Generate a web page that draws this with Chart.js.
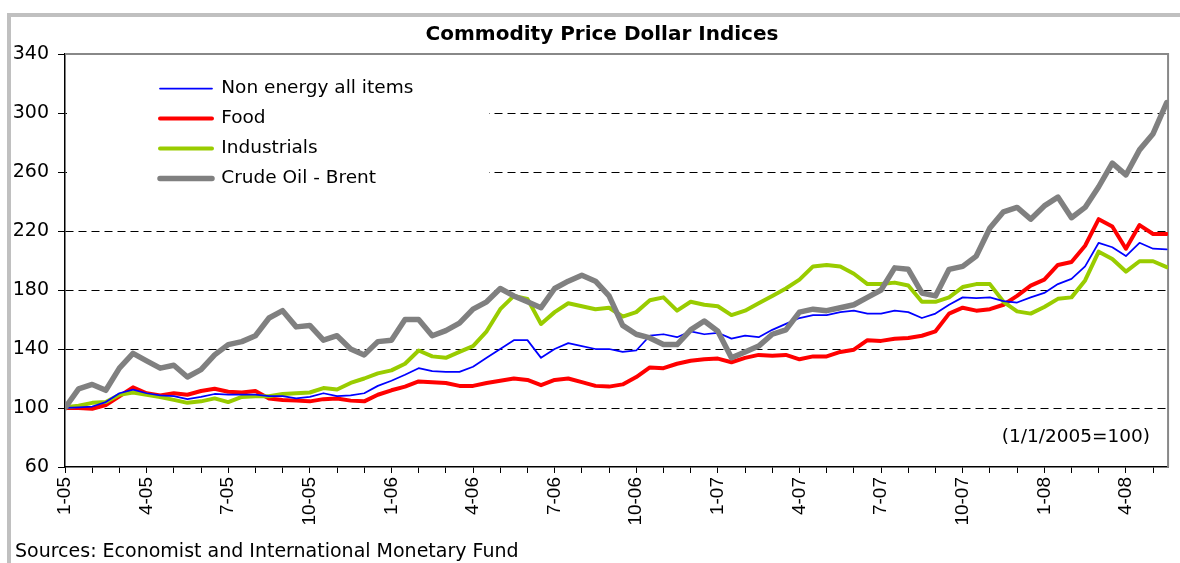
<!DOCTYPE html>
<html>
<head>
<meta charset="utf-8">
<title>Commodity Price Dollar Indices</title>
<script src="https://cdn.jsdelivr.net/npm/chart.js@4/dist/chart.umd.min.js"></script>
<style>
    html, body { margin: 0; padding: 0; background: #fff; }
</style>
</head>
<body>
<canvas id="myLineChart" width="1180" height="563"></canvas>
<script>
// biweekly readings, Jan 2005 .. mid May 2008 (1/1/2005 = 100)
var nonEnergy = [100, 100.5, 101, 104, 110, 112.5, 110, 108.5, 108, 106, 107.5, 109.5, 109, 109, 109, 108, 108,
    106.5, 107.5, 110, 108, 108.5, 110, 115, 118.5, 122.5, 127, 125, 124.5, 124.5, 128, 134, 140,
    146, 146, 134, 140, 144, 142, 140, 140, 138, 139, 149, 150, 148, 152, 150, 151, 147,
    149, 148, 153, 157, 161, 163, 163, 165, 166, 164, 164, 166, 165, 161, 164, 170,
    175, 174.5, 175, 172.5, 171.5, 175, 178, 184, 187.5, 196, 212, 209, 203, 212, 208, 207.5];
var food = [100, 100, 99.5, 102, 108, 114, 110, 108.5, 110, 109, 111.5, 113, 111, 110.5, 111.5, 106.5, 105.5,
    105, 104.5, 106, 106.5, 105, 104.5, 109, 112, 114.5, 118, 117.5, 117, 115, 115, 117, 118.5,
    120, 119, 115.5, 119, 120, 117.5, 115, 114.5, 116, 121, 127.5, 127, 130, 132, 133, 133.5, 131,
    134, 136, 135.5, 136, 133, 135, 135, 138, 139.5, 146, 145.5, 147, 147.5, 149, 152, 164,
    168, 166, 167, 170, 176, 183, 187, 197, 199, 210, 228, 223, 208, 224, 218, 218];
var industrials = [100.5, 101.5, 103.5, 104, 109, 110.5, 109, 107.5, 105.5, 103.5, 104.5, 106.5, 104, 107.5, 108, 108, 109.5,
    110, 110.5, 113.5, 112.5, 117, 120, 123.5, 125.5, 130, 139, 135, 134, 138, 142, 152, 167,
    176, 174, 157, 165, 171, 169, 167, 168, 162, 165, 173, 175, 166, 172, 170, 169, 163,
    166, 171, 176, 181, 187, 196, 197, 196, 191, 184, 184, 185, 183, 172, 172, 175,
    182, 184, 184, 172, 165.5, 164, 168.5, 174, 175, 186.5, 206, 201, 192.5, 199.5, 199.5, 195.5];
var crudeBrent = [100, 113, 116, 112, 127, 137, 132, 127, 129, 121, 126, 136, 143, 145, 149, 161, 166,
    155, 156, 146, 149, 140, 136, 145, 146, 160, 160, 149, 152.5, 157.5, 167, 172, 181,
    176, 172, 168, 181, 186, 190, 186, 176, 156, 150, 147.5, 143, 143, 153, 159, 152, 134,
    138, 142, 150, 153, 165, 167, 166, 168, 170, 175, 180, 195, 194, 178, 176, 194,
    196, 203, 222, 233, 236, 228, 237, 243, 229, 236, 250, 266, 258, 275, 286, 307];

var seriesNames = ['Non energy all items', 'Food', 'Industrials', 'Crude Oil - Brent'];
var tickLabels = ['1-05', '4-05', '7-05', '10-05', '1-06', '4-06', '7-06', '10-06',
    '1-07', '4-07', '7-07', '10-07', '1-08', '4-08'];
var titleText = 'Commodity Price Dollar Indices';
var baseNote = '(1/1/2005=100)';
var sourceNote = 'Sources: Economist and International Monetary Fund';

// x position of each reading, in months after Jan 2005
var sampleMonths = nonEnergy.map(function (v, i) { return i / 2; });

function makeSet(label, data, color, width, order) {
    return {
        label: label,
        data: data,
        borderColor: color,
        backgroundColor: color,
        borderWidth: width,
        borderJoinStyle: 'round',
        borderCapStyle: 'round',
        pointRadius: 0,
        tension: 0,
        fill: false,
        order: order
    };
}

var sheetPlugin = {
    id: 'sheet',
    afterLayout: function (chart) {
        // legend inside the plot, upper left; title centred a bit right
        chart.legend.left = 148.5;
        chart.legend.top = 67.75;
        chart.titleBlock.left = 31;
    },
    beforeDraw: function (chart) {
        var ctx = chart.ctx;
        ctx.save();
        ctx.fillStyle = '#c0c0c0';
        ctx.fillRect(7, 13, chart.width - 7, 4);
        ctx.fillRect(7, 13, 4, chart.height - 13);
        ctx.restore();
    },
    beforeDatasetsDraw: function (chart) {
        var ctx = chart.ctx, a = chart.chartArea;
        ctx.save();
        ctx.fillStyle = '#fff';
        ctx.fillRect(a.left + 2, a.top + 4, 422, 142);
        ctx.strokeStyle = '#888';
        ctx.lineWidth = 2;
        ctx.beginPath();
        ctx.moveTo(a.left, a.top);
        ctx.lineTo(a.right, a.top);
        ctx.lineTo(a.right, a.bottom);
        ctx.stroke();
        ctx.restore();
        chart.legend.draw();
    },
    afterDraw: function (chart) {
        var ctx = chart.ctx, a = chart.chartArea;
        ctx.save();
        ctx.fillStyle = '#000';
        ctx.textBaseline = 'middle';
        ctx.font = '18.5px "DejaVu Sans"';
        ctx.textAlign = 'right';
        ctx.fillText(baseNote, a.right - 18, 437);
        ctx.font = '19px "DejaVu Sans"';
        ctx.textAlign = 'left';
        ctx.fillText(sourceNote, 15, 552);
        ctx.restore();
    }
};

Chart.defaults.font.family = '"DejaVu Sans", sans-serif';
Chart.defaults.color = '#000';

var myLineChart = new Chart(document.getElementById('myLineChart'), {
    type: 'line',
    data: {
        labels: sampleMonths,
        datasets: [
            makeSet(seriesNames[0], nonEnergy, '#0000ff', 1.75, 2),
            makeSet(seriesNames[1], food, '#ff0000', 4, 4),
            makeSet(seriesNames[2], industrials, '#99cc00', 4, 3),
            makeSet(seriesNames[3], crudeBrent, '#808080', 5.5, 1)
        ]
    },
    options: {
        responsive: false,
        animation: false,
        layout: {
            padding: { left: 8, right: 7, top: 23, bottom: 0 }
        },
        plugins: {
            title: {
                display: true,
                text: titleText,
                font: { size: 20, weight: 'bold' },
                color: '#000',
                padding: { top: 0, bottom: 7 }
            },
            legend: {
                position: 'chartArea',
                align: 'start',
                labels: {
                    boxWidth: 52,
                    boxHeight: 0,
                    padding: 11.5,
                    font: { size: 18.5 },
                    color: '#000',
                    generateLabels: function (chart) {
                        return chart.data.datasets.map(function (ds, i) {
                            return {
                                text: ds.label,
                                fillStyle: ds.borderColor,
                                strokeStyle: ds.borderColor,
                                lineWidth: ds.borderWidth,
                                lineJoin: 'round',
                                lineCap: 'round',
                                hidden: false,
                                datasetIndex: i
                            };
                        });
                    },
                    sort: function (a, b) { return a.datasetIndex - b.datasetIndex; }
                }
            },
            tooltip: { enabled: false }
        },
        scales: {
            x: {
                type: 'linear',
                min: 0,
                max: 40.55,
                afterFit: function (scale) { scale.height = 96; },
                border: { color: '#000', width: 1.5 },
                grid: {
                    drawOnChartArea: false,
                    tickLength: 6,
                    tickColor: '#000',
                    color: '#000'
                },
                ticks: {
                    stepSize: 1,
                    autoSkip: false,
                    includeBounds: false,
                    minRotation: 90,
                    maxRotation: 90,
                    padding: 4,
                    color: '#000',
                    font: { family: '"Liberation Sans", Arial, sans-serif', size: 19 },
                    callback: function (value) {
                        return value % 3 === 0 ? tickLabels[value / 3] : '';
                    }
                }
            },
            y: {
                min: 60,
                max: 340,
                afterFit: function (scale) { scale.width = 57; },
                border: { color: '#000', width: 1.5, dash: [8, 5] },
                grid: {
                    tickLength: 7,
                    tickColor: '#000',
                    lineWidth: 1,
                    color: function (ctx) {
                        var v = ctx.tick && ctx.tick.value;
                        return (v === 60 || v === 340) ? 'rgba(0,0,0,0)' : '#000';
                    }
                },
                ticks: {
                    stepSize: 40,
                    padding: 9,
                    color: '#000',
                    font: { size: 19 }
                }
            }
        }
    },
    plugins: [sheetPlugin]
});
</script>
</body>
</html>
